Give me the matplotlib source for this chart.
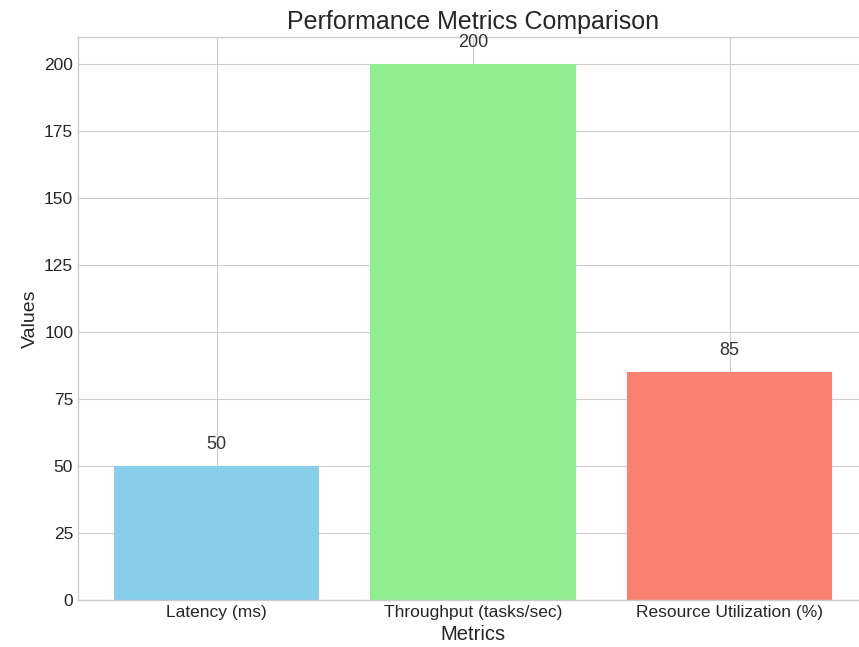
import matplotlib
matplotlib.use("Agg")
import matplotlib.pyplot as plt

metrics = ["Latency (ms)", "Throughput (tasks/sec)", "Resource Utilization (%)"]
values = [50, 200, 85]
colors = ["skyblue", "lightgreen", "salmon"]

plt.style.use("seaborn-v0_8-whitegrid")
plt.rcParams["font.family"] = ["Liberation Sans", "DejaVu Sans"]

fig, ax = plt.subplots(figsize=(8.59, 6.47), dpi=100)
bars = ax.bar(metrics, values, color=colors)

# value labels just above each bar
for bar, v in zip(bars, values):
    ax.annotate(f"{v}", xy=(bar.get_x() + bar.get_width() / 2, v),
                xytext=(0, 9), textcoords="offset points",
                ha="center", va="bottom", fontsize=13, color="#333333")

ax.set_title("Performance Metrics Comparison", fontsize=18, color="#262626")
ax.set_xlabel("Metrics", fontsize=14.5, color="#262626")
ax.set_ylabel("Values", fontsize=14, color="#262626")
ax.tick_params(labelsize=12.5, colors="#262626")
ax.set_ylim(0, 210)
for s in ax.spines.values():
    s.set_visible(True)
    s.set_color("#cccccc")
    s.set_linewidth(1.0)

# right spine falls just past the canvas edge
fig.subplots_adjust(left=0.0908, right=1.0105, top=0.943, bottom=0.073)
fig.savefig("out.png")
